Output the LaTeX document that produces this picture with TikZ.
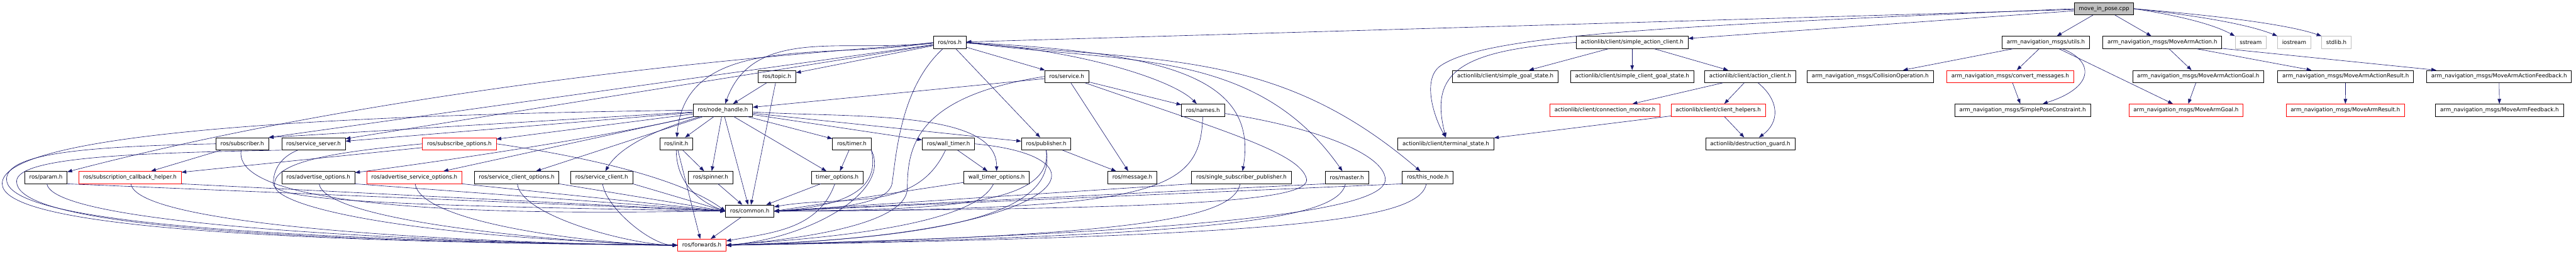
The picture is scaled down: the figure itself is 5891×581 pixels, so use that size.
\documentclass[tikz,border=0pt]{standalone}
\usepackage{fontspec}
\setmainfont{DejaVu Sans}
\usetikzlibrary{arrows.meta}
\definecolor{link}{HTML}{191970}
\definecolor{trunc}{HTML}{FF0000}
\definecolor{sysbd}{HTML}{BFBFBF}
\definecolor{rootbg}{HTML}{BFBFBF}
\tikzset{
  box/.style={rectangle, draw=black, line width=1.1pt, fill=white,
              inner xsep=10.5pt, inner ysep=0pt, minimum height=28pt,
              font=\fontsize{12.5}{15}\selectfont},
  partial/.style={box, draw=trunc},
  sys/.style={box, draw=sysbd},
  root/.style={box, fill=rootbg},
  arrow/.style={-{Triangle[length=11pt,width=8pt]}, line width=0.9pt, draw=link},
}

\begin{document}
\begin{tikzpicture}[x=1pt, y=1pt]
  \fill[white] (0,0) rectangle (5891,-581);
  \useasboundingbox (0,0) rectangle (5891,-581);

  \node[root] (mip) at (4811.5,-20) {move\_in\_pose.cpp};

  \node[box] (ros) at (2172,-97) {ros/ros.h};
  \node[box] (sac) at (3732.5,-97) {actionlib/client/simple\_action\_client.h};
  \node[box] (utils) at (4678.5,-97) {arm\_navigation\_msgs/utils.h};
  \node[box] (maa) at (4945,-97) {arm\_navigation\_msgs/MoveArmAction.h};
  \node[sys] (sstream) at (5147,-97) {sstream};
  \node[sys] (iostream) at (5246.5,-97) {iostream};
  \node[sys] (stdlib) at (5343,-97) {stdlib.h};

  \node[box] (topic) at (1776.5,-175) {ros/topic.h};
  \node[box] (service) at (2439.5,-175) {ros/service.h};
  \node[box] (sgs) at (3442.5,-175) {actionlib/client/simple\_goal\_state.h};
  \node[box] (scgs) at (3732.5,-175) {actionlib/client/simple\_client\_goal\_state.h};
  \node[box] (ac) at (4002.5,-175) {actionlib/client/action\_client.h};
  \node[box] (collop) at (4277,-175) {arm\_navigation\_msgs/CollisionOperation.h};
  \node[partial] (convmsg) at (4597,-175) {arm\_navigation\_msgs/convert\_messages.h};
  \node[box] (maagoal) at (5027,-175) {arm\_navigation\_msgs/MoveArmActionGoal.h};
  \node[box] (maaresult) at (5364,-175) {arm\_navigation\_msgs/MoveArmActionResult.h};
  \node[box] (maafb) at (5715,-175) {arm\_navigation\_msgs/MoveArmActionFeedback.h};

  \node[box] (nh) at (1653,-252) {ros/node\_handle.h};
  \node[box] (names) at (2751,-252) {ros/names.h};
  \node[partial] (connmon) at (3670.5,-252) {actionlib/client/connection\_monitor.h};
  \node[partial] (clienthelp) at (3929.5,-252) {actionlib/client/client\_helpers.h};
  \node[box] (spc) at (4625.5,-252) {arm\_navigation\_msgs/SimplePoseConstraint.h};
  \node[partial] (magoal) at (4999,-252) {arm\_navigation\_msgs/MoveArmGoal.h};
  \node[partial] (mresult) at (5363.5,-252) {arm\_navigation\_msgs/MoveArmResult.h};
  \node[box] (mfb) at (5716,-252) {arm\_navigation\_msgs/MoveArmFeedback.h};

  \node[box] (subscriber) at (554,-329) {ros/subscriber.h};
  \node[box] (sserver) at (717,-329) {ros/service\_server.h};
  \node[partial] (subopts) at (1050.5,-329) {ros/subscribe\_options.h};
  \node[box] (init) at (1546.5,-329) {ros/init.h};
  \node[box] (timer) at (1948,-329) {ros/timer.h};
  \node[box] (walltimer) at (2169,-329) {ros/wall\_timer.h};
  \node[box] (publisher) at (2392.5,-329) {ros/publisher.h};
  \node[box] (ts) at (3306.5,-329) {actionlib/client/terminal\_state.h};
  \node[box] (dguard) at (4002.5,-329) {actionlib/destruction\_guard.h};

  \node[box] (param) at (105,-406) {ros/param.h};
  \node[partial] (sch) at (297,-406) {ros/subscription\_callback\_helper.h};
  \node[box] (advopts) at (728,-406) {ros/advertise\_options.h};
  \node[partial] (advsrvopts) at (947.5,-406) {ros/advertise\_service\_options.h};
  \node[box] (scopts) at (1181.5,-406) {ros/service\_client\_options.h};
  \node[box] (sclient) at (1376,-406) {ros/service\_client.h};
  \node[box] (spinner) at (1625,-406) {ros/spinner.h};
  \node[box] (timeropts) at (1914.5,-406) {timer\_options.h};
  \node[box] (wtopts) at (2279,-406) {wall\_timer\_options.h};
  \node[box] (message) at (2589.5,-406) {ros/message.h};
  \node[box] (ssp) at (2839,-406) {ros/single\_subscriber\_publisher.h};
  \node[box] (master) at (3080,-406) {ros/master.h};
  \node[box] (thisnode) at (3265,-406) {ros/this\_node.h};

  \node[box] (common) at (1714.5,-483) {ros/common.h};
  \node[partial] (forwards) at (1605,-561) {ros/forwards.h};

  \draw[arrow] (mip) -- (ros);
  \draw[arrow] (mip) -- (sac);
  \draw[arrow] (mip.west) .. controls (3800,-60) and (3400,-80) .. (3295,-150)
    .. controls (3250,-180) and (3280,-270) .. (ts.north);
  \draw[arrow] (mip) -- (utils);
  \draw[arrow] (mip) -- (maa);
  \draw[arrow] (mip.east) .. controls (4980,-35) and (5060,-55) .. (sstream.north west);
  \draw[arrow] (mip.east) .. controls (5020,-35) and (5140,-55) .. (iostream.north west);
  \draw[arrow] (mip.east) .. controls (5060,-35) and (5230,-55) .. (stdlib.north west);

  \draw[arrow] (ros) -- (topic);
  \draw[arrow] (ros.west) to[out=188, in=70] (nh);
  \draw[arrow] (ros.west) to[out=190, in=85] (init);
  \draw[arrow] (ros) -- (subscriber.north east);
  \draw[arrow] (ros) -- (sserver);
  \draw[arrow] (ros) .. controls (1400,-150) and (700,-250) .. (param);
  \draw[arrow] (ros) .. controls (2060,-200) and (2050,-350) .. (2040,-420)
    .. controls (2030,-470) and (1900,-478) .. (common.east);
  \draw[arrow] (ros) -- (publisher);
  \draw[arrow] (ros) -- (service);
  \draw[arrow] (ros) .. controls (2450,-110) and (2680,-180) .. (names);
  \draw[arrow] (ros.east) .. controls (2650,-120) and (2880,-170) .. (ssp);
  \draw[arrow] (ros.east) .. controls (2560,-146) and (2870,-105) .. (master);
  \draw[arrow] (ros.east) .. controls (2650,-143) and (2920,-110) .. (thisnode);

  \draw[arrow] (topic) -- (nh);
  \draw[arrow] (topic) -- (common);

  \draw[arrow] (service) -- (nh);
  \draw[arrow] (service) -- (names);
  \draw[arrow] (service) -- (message);
  \draw[arrow] (service.west) .. controls (2100,-220) and (2075,-330) .. (2075,-430)
    .. controls (2075,-510) and (1850,-545) .. (forwards.east);
  \draw[arrow] (service) .. controls (2800,-300) and (2975,-350) .. (2988,-410)
    .. controls (2995,-460) and (2700,-478) .. (common.east);

  \draw[arrow] (names) .. controls (2745,-440) and (2650,-480) .. (common.east);
  \draw[arrow] (names) .. controls (3000,-290) and (3165,-350) .. (3168,-410)
    .. controls (3170,-470) and (2900,-530) .. (forwards.east);

  \draw[arrow] (nh) -- (subscriber.north east);
  \draw[arrow] (nh) -- (sserver);
  \draw[arrow] (nh) -- (subopts);
  \draw[arrow] (nh) .. controls (1350,-320) and (1000,-370) .. (advopts);
  \draw[arrow] (nh) -- (advsrvopts);
  \draw[arrow] (nh) -- (scopts);
  \draw[arrow] (nh) .. controls (1520,-290) and (1420,-330) .. (sclient);
  \draw[arrow] (nh) -- (init);
  \draw[arrow] (nh) -- (spinner);
  \draw[arrow] (nh) -- (common);
  \draw[arrow] (nh) -- (timer);
  \draw[arrow] (nh) -- (timeropts);
  \draw[arrow] (nh) -- (walltimer);
  \draw[arrow] (nh) .. controls (1950,-270) and (2280,-250) .. (wtopts);
  \draw[arrow] (nh) -- (publisher);
  \draw[arrow] (nh.west) .. controls (800,-262) and (5,-300) .. (5,-420)
    .. controls (5,-500) and (400,-552) .. (forwards.west);

  \draw[arrow] (init) -- (spinner);
  \draw[arrow] (init) to[out=-90, in=160] (common.west);
  \draw[arrow] (init) -- (forwards);
  \draw[arrow] (spinner) -- (common);

  \draw[arrow] (timer) -- (timeropts);
  \draw[arrow] (timer.south east) .. controls (2010,-420) and (1960,-470) .. (common.east);
  \draw[arrow] (timer.south east) .. controls (2040,-440) and (1850,-545) .. (forwards.east);
  \draw[arrow] (timeropts) -- (common);
  \draw[arrow] (timeropts) to[out=-110, in=10] (forwards);

  \draw[arrow] (walltimer) -- (wtopts);
  \draw[arrow] (walltimer) to[out=-115, in=10] (common);
  \draw[arrow] (walltimer.east) .. controls (2560,-360) and (2450,-540) .. (forwards.east);
  \draw[arrow] (wtopts) -- (common.east);
  \draw[arrow] (wtopts) .. controls (2220,-530) and (1780,-550) .. (forwards.east);

  \draw[arrow] (publisher) -- (message);
  \draw[arrow] (publisher.south) .. controls (2410,-470) and (2150,-480) .. (common.east);
  \draw[arrow] (publisher.south) .. controls (2420,-490) and (2150,-545) .. (forwards.east);

  \draw[arrow] (ssp.south west) -- (common.east);
  \draw[arrow] (ssp) .. controls (2820,-500) and (2600,-540) .. (forwards.east);
  \draw[arrow] (master.south west) -- (common.east);
  \draw[arrow] (master) .. controls (3060,-500) and (2800,-540) .. (forwards.east);
  \draw[arrow] (thisnode.south west) -- (common.east);
  \draw[arrow] (thisnode) .. controls (3245,-500) and (3000,-540) .. (forwards.east);

  \draw[arrow] (subscriber) -- (sch);
  \draw[arrow] (subscriber) .. controls (522,-514) and (1483,-483) .. (common.west);
  \draw[arrow] (subscriber.west) .. controls (200,-335) and (15,-350) .. (15,-410)
    .. controls (15,-480) and (300,-545) .. (forwards.west);
  \draw[arrow] (sserver) .. controls (640,-360) and (625,-390) .. (625,-420)
    .. controls (625,-460) and (900,-470) .. (common.west);
  \draw[arrow] (sserver.south west) .. controls (300,-350) and (38,-360) .. (38,-415)
    .. controls (38,-490) and (350,-550) .. (forwards.west);

  \draw[arrow] (subopts) -- (sch);
  \draw[arrow] (subopts.east) .. controls (1350,-360) and (1560,-410) .. (common.west);
  \draw[arrow] (subopts.west) .. controls (800,-345) and (620,-365) .. (628,-425)
    .. controls (632,-470) and (900,-540) .. (forwards.west);

  \draw[arrow] (param.south east) -- (common.west);
  \draw[arrow] (param) .. controls +(20,-130) and +(-200,0) .. (forwards.west);
  \draw[arrow] (sch.south east) -- (common.west);
  \draw[arrow] (sch) .. controls +(20,-130) and +(-200,0) .. (forwards.west);
  \draw[arrow] (advopts.south east) -- (common.west);
  \draw[arrow] (advopts) .. controls +(15,-110) and +(-150,0) .. (forwards.west);
  \draw[arrow] (advsrvopts.south east) -- (common.west);
  \draw[arrow] (advsrvopts) .. controls +(15,-110) and +(-150,0) .. (forwards.west);
  \draw[arrow] (scopts.south east) -- (common.west);
  \draw[arrow] (scopts) .. controls +(10,-90) and +(-100,0) .. (forwards.west);
  \draw[arrow] (sclient.south east) -- (common.west);
  \draw[arrow] (sclient) .. controls +(10,-70) and +(-60,0) .. (forwards.west);

  \draw[arrow] (common) -- (forwards);

  \draw[arrow] (sac) -- (sgs);
  \draw[arrow] (sac) -- (scgs);
  \draw[arrow] (sac) -- (ac);
  \draw[arrow] (sac.west) .. controls (3330,-115) and (3270,-170) .. (ts.north);
  \draw[arrow] (ac) -- (connmon);
  \draw[arrow] (ac) -- (clienthelp);
  \draw[arrow] (ac) .. controls (4070,-230) and (4070,-280) .. (dguard);
  \draw[arrow] (clienthelp) -- (ts);
  \draw[arrow] (clienthelp) -- (dguard);

  \draw[arrow] (utils) -- (collop);
  \draw[arrow] (utils) -- (convmsg);
  \draw[arrow] (utils) .. controls (4790,-140) and (4790,-200) .. (spc);
  \draw[arrow] (utils) -- (magoal);
  \draw[arrow] (convmsg) -- (spc);
  \draw[arrow] (maa) -- (maagoal);
  \draw[arrow] (maa) -- (maaresult);
  \draw[arrow] (maa) -- (maafb);
  \draw[arrow] (maagoal) -- (magoal);
  \draw[arrow] (maaresult) -- (mresult);
  \draw[arrow] (maafb) -- (mfb);
\end{tikzpicture}
\end{document}
